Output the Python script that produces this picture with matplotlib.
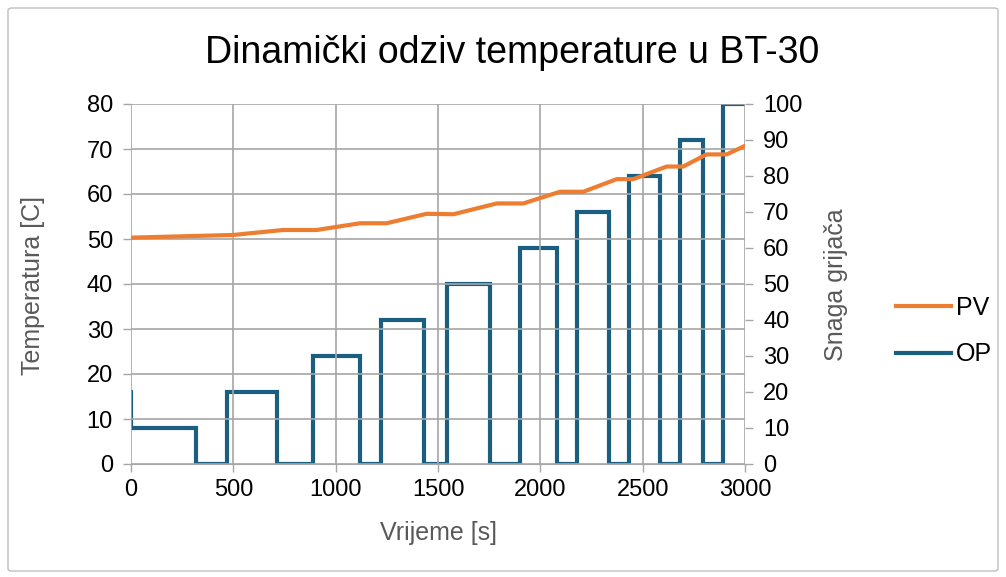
import matplotlib.pyplot as plt
from matplotlib.patches import FancyBboxPatch

plt.rcParams["font.family"] = ["Liberation Sans", "DejaVu Sans"]

# PV (temperature)
pv_t = [0, 500, 743, 907, 1119, 1249, 1444, 1575, 1787, 1917, 2096, 2210,
        2373, 2454, 2617, 2698, 2812, 2910, 3000]
pv_val = [50.3, 50.9, 52.0, 52.0, 53.5, 53.5, 55.6, 55.5, 57.9, 57.9, 60.5,
          60.5, 63.3, 63.3, 66.1, 66.1, 68.8, 68.8, 70.7]

# OP (heater power) step changes: value holds from each time to the next
op_t = [0, 0, 320, 467, 713, 887, 1119, 1220, 1431, 1545, 1754, 1900, 2080,
        2177, 2337, 2434, 2587, 2682, 2793, 2894, 3000]
op_val = [20, 10, 0, 20, 0, 30, 0, 40, 0, 50, 0, 60, 0, 70, 0, 80, 0, 90, 0,
          100, 100]

grid_c = "#a6a6a6"
label_c = "#595959"
W, H = 1006, 577

fig = plt.figure(figsize=(W / 100, H / 100), dpi=100)
fig.patches.append(FancyBboxPatch((8 / W, 6 / H), 990 / W, 563 / H,
                                  boxstyle="round,pad=0,rounding_size=0.004",
                                  transform=fig.transFigure, fill=False,
                                  edgecolor="#bfbfbf", linewidth=1))
ax = fig.add_axes([131 / W, 1 - 464 / H, 614 / W, 360 / H])
ax2 = ax.twinx()

ax.plot(pv_t, pv_val, color="#ed7d31", lw=3, label="PV", zorder=3)
ax2.step(op_t, op_val, where="post", color="#1a5f80", lw=3, label="OP",
         solid_joinstyle="miter")

ax.set_xlim(0, 3000)
ax.set_ylim(0, 80)
ax2.set_ylim(0, 100)
ax.set_xticks(range(0, 3001, 500))
ax.set_yticks(range(0, 81, 10))
ax2.set_yticks(range(0, 101, 10))
ax.grid(True, color=grid_c, lw=1.2)
ax.set_axisbelow(True)
ax.set_zorder(ax2.get_zorder() + 1)
ax.patch.set_visible(False)

for a in (ax, ax2):
    for s in a.spines.values():
        s.set_visible(False)
    a.tick_params(labelsize=17, colors=grid_c, labelcolor="black", length=6,
                  width=1, pad=7)
ax.spines["bottom"].set_visible(True)
ax.spines["bottom"].set_color(grid_c)
ax.tick_params(axis="x", pad=5)

fig.text(512 / W, 1 - 53 / H, "Dinamički odziv temperature u BT-30",
         fontsize=27, ha="center", va="center")
fig.text(438 / W, 1 - 533 / H, "Vrijeme [s]", fontsize=18, color=label_c,
         ha="center", va="center")
fig.text(33 / W, 1 - 285 / H, "Temperatura [C]", fontsize=18, color=label_c,
         ha="center", va="center", rotation=90)
fig.text(836 / W, 1 - 285 / H, "Snaga grijača", fontsize=18, color=label_c,
         ha="center", va="center", rotation=90)

h1, l1 = ax.get_legend_handles_labels()
h2, l2 = ax2.get_legend_handles_labels()
fig.legend(h1 + h2, l1 + l2, loc="center left",
           bbox_to_anchor=(873 / W, 1 - 331 / H), frameon=False,
           fontsize=18, handlelength=2.2, handletextpad=0.2, labelspacing=0.9)

fig.savefig("out.png", dpi=100)
